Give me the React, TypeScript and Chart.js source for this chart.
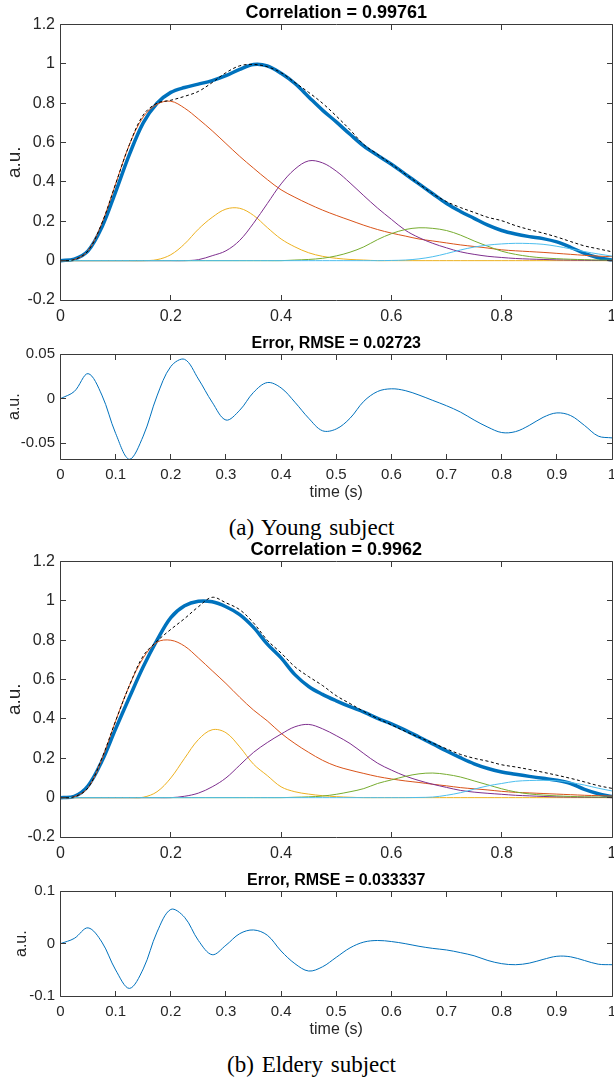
import React, { useEffect, useRef } from "react";
import { Chart, registerables } from "chart.js";

Chart.register(...registerables);

const FONT = '"Liberation Sans", Arial, Helvetica, sans-serif';
Chart.defaults.font.family = FONT;

// ---------- DATA ----------
const T = [0, 0.025, 0.05, 0.075, 0.1, 0.125, 0.15, 0.175, 0.2, 0.225, 0.25, 0.275, 0.3, 0.325, 0.35, 0.375, 0.4, 0.425, 0.45, 0.475, 0.5, 0.525, 0.55, 0.575, 0.6, 0.625, 0.65, 0.675, 0.7, 0.725, 0.75, 0.775, 0.8, 0.825, 0.85, 0.875, 0.9, 0.925, 0.95, 0.975, 1];

// (a) Young subject
const youngMeasured = [0, 0.005, 0.05, 0.19, 0.39, 0.59, 0.74, 0.8, 0.815, 0.835, 0.86, 0.905, 0.955, 0.99, 0.997, 0.985, 0.955, 0.905, 0.855, 0.8, 0.735, 0.665, 0.59, 0.54, 0.49, 0.44, 0.39, 0.34, 0.3, 0.27, 0.245, 0.22, 0.203, 0.178, 0.158, 0.14, 0.12, 0.097, 0.075, 0.06, 0.045];
const youngFit = [0, 0.008, 0.05, 0.17, 0.35, 0.54, 0.7, 0.8, 0.855, 0.88, 0.897, 0.915, 0.94, 0.972, 0.997, 0.99, 0.952, 0.9, 0.832, 0.765, 0.705, 0.642, 0.582, 0.535, 0.49, 0.44, 0.39, 0.34, 0.29, 0.25, 0.215, 0.18, 0.153, 0.135, 0.122, 0.112, 0.095, 0.068, 0.037, 0.015, 0.003];
const youngC1 = [0, 0.005, 0.05, 0.19, 0.39, 0.59, 0.73, 0.795, 0.81, 0.775, 0.72, 0.66, 0.595, 0.53, 0.47, 0.412, 0.36, 0.322, 0.288, 0.257, 0.23, 0.205, 0.18, 0.158, 0.14, 0.125, 0.11, 0.1, 0.09, 0.08, 0.072, 0.064, 0.055, 0.05, 0.046, 0.042, 0.037, 0.032, 0.027, 0.023, 0.02];
const youngC2 = [0, 0, 0, 0, 0, 0, 0, 0.005, 0.03, 0.085, 0.16, 0.22, 0.262, 0.266, 0.23, 0.168, 0.11, 0.07, 0.04, 0.022, 0.012, 0.006, 0.003, 0, 0, 0, 0, 0, 0, 0, 0, 0, 0, 0, 0, 0, 0, 0, 0, 0, 0];
const youngC3 = [0, 0, 0, 0, 0, 0, 0, 0, 0, 0, 0.005, 0.025, 0.05, 0.103, 0.19, 0.29, 0.39, 0.465, 0.507, 0.497, 0.455, 0.395, 0.33, 0.267, 0.21, 0.155, 0.117, 0.088, 0.065, 0.045, 0.032, 0.022, 0.016, 0.011, 0.008, 0.006, 0.004, 0.003, 0.002, 0.001, 0];
const youngC4 = [0, 0, 0, 0, 0, 0, 0, 0, 0, 0, 0, 0, 0, 0, 0, 0, 0, 0.003, 0.006, 0.012, 0.024, 0.043, 0.07, 0.107, 0.137, 0.158, 0.167, 0.164, 0.153, 0.13, 0.1, 0.073, 0.048, 0.032, 0.021, 0.014, 0.01, 0.007, 0.005, 0.003, 0.002];
const youngC5 = [0, 0, 0, 0, 0, 0, 0, 0, 0, 0, 0, 0, 0, 0, 0, 0, 0, 0, 0, 0, 0, 0, 0, 0, 0.001, 0.003, 0.009, 0.02, 0.036, 0.054, 0.069, 0.079, 0.085, 0.088, 0.087, 0.083, 0.073, 0.06, 0.046, 0.034, 0.023];
const youngError = [0, 0.008, 0.028, 0.004, -0.039, -0.068, -0.042, 0.003, 0.036, 0.044, 0.022, -0.004, -0.024, -0.013, 0.007, 0.018, 0.012, -0.004, -0.022, -0.036, -0.034, -0.022, -0.003, 0.008, 0.011, 0.009, 0.004, -0.002, -0.008, -0.015, -0.024, -0.032, -0.038, -0.037, -0.03, -0.021, -0.016, -0.019, -0.03, -0.042, -0.044];

// (b) Eldery subject
const elderMeasured = [0, 0.004, 0.05, 0.2, 0.39, 0.57, 0.72, 0.795, 0.855, 0.91, 0.97, 1.018, 0.99, 0.955, 0.888, 0.8, 0.735, 0.665, 0.615, 0.57, 0.518, 0.478, 0.438, 0.402, 0.37, 0.337, 0.307, 0.277, 0.248, 0.22, 0.2, 0.185, 0.167, 0.156, 0.143, 0.129, 0.114, 0.098, 0.08, 0.061, 0.047];
const elderFit = [0, 0.006, 0.06, 0.185, 0.35, 0.51, 0.665, 0.8, 0.915, 0.975, 0.998, 0.995, 0.97, 0.93, 0.865, 0.78, 0.71, 0.625, 0.565, 0.525, 0.492, 0.462, 0.435, 0.403, 0.375, 0.343, 0.308, 0.273, 0.237, 0.203, 0.172, 0.148, 0.13, 0.119, 0.108, 0.098, 0.088, 0.072, 0.042, 0.02, 0.005];
const elderC1 = [0, 0.004, 0.05, 0.195, 0.39, 0.57, 0.71, 0.79, 0.8, 0.77, 0.71, 0.645, 0.58, 0.51, 0.445, 0.39, 0.327, 0.275, 0.23, 0.19, 0.16, 0.14, 0.123, 0.107, 0.095, 0.085, 0.077, 0.068, 0.06, 0.051, 0.045, 0.039, 0.032, 0.027, 0.024, 0.021, 0.018, 0.015, 0.012, 0.01, 0.008];
const elderC2 = [0, 0, 0, 0, 0, 0, 0.002, 0.03, 0.1, 0.2, 0.295, 0.345, 0.33, 0.258, 0.17, 0.112, 0.055, 0.03, 0.018, 0.01, 0.005, 0.002, 0, 0, 0, 0, 0, 0, 0, 0, 0, 0, 0, 0, 0, 0, 0, 0, 0, 0, 0];
const elderC3 = [0, 0, 0, 0, 0, 0, 0, 0, 0, 0.007, 0.023, 0.055, 0.1, 0.165, 0.23, 0.28, 0.323, 0.36, 0.372, 0.35, 0.315, 0.275, 0.224, 0.175, 0.14, 0.11, 0.087, 0.068, 0.052, 0.037, 0.028, 0.022, 0.017, 0.012, 0.009, 0.006, 0.004, 0.003, 0.002, 0.001, 0];
const elderC4 = [0, 0, 0, 0, 0, 0, 0, 0, 0, 0, 0, 0, 0, 0, 0, 0, 0, 0.002, 0.004, 0.008, 0.017, 0.03, 0.046, 0.072, 0.09, 0.108, 0.121, 0.125, 0.118, 0.105, 0.085, 0.065, 0.045, 0.029, 0.019, 0.013, 0.009, 0.006, 0.004, 0.003, 0.002];
const elderC5 = [0, 0, 0, 0, 0, 0, 0, 0, 0, 0, 0, 0, 0, 0, 0, 0, 0, 0, 0, 0, 0, 0, 0, 0, 0, 0, 0.001, 0.003, 0.012, 0.025, 0.043, 0.06, 0.072, 0.083, 0.087, 0.088, 0.086, 0.077, 0.064, 0.048, 0.034];
const elderError = [0, 0.01, 0.03, 0.003, -0.05, -0.085, -0.048, 0.022, 0.065, 0.05, 0.006, -0.021, -0.003, 0.019, 0.026, 0.016, -0.014, -0.038, -0.052, -0.044, -0.026, -0.008, 0.003, 0.006, 0.004, 0, -0.005, -0.009, -0.012, -0.017, -0.023, -0.032, -0.038, -0.04, -0.037, -0.03, -0.024, -0.025, -0.032, -0.039, -0.04];

// ticks
const X_TICKS_MAIN = [0, 0.2, 0.4, 0.6, 0.8, 1];
const X_LABELS_MAIN = ["0", "0.2", "0.4", "0.6", "0.8", "1"];
const Y_TICKS_MAIN = [-0.2, 0, 0.2, 0.4, 0.6, 0.8, 1, 1.2];
const Y_LABELS_MAIN = ["-0.2", "0", "0.2", "0.4", "0.6", "0.8", "1", "1.2"];
const X_TICKS_ERR = [0, 0.1, 0.2, 0.3, 0.4, 0.5, 0.6, 0.7, 0.8, 0.9, 1];
const X_LABELS_ERR = ["0", "0.1", "0.2", "0.3", "0.4", "0.5", "0.6", "0.7", "0.8", "0.9", "1"];
const Y_TICKS_ERR_A = [-0.05, 0, 0.05];
const Y_LABELS_ERR_A = ["-0.05", "0", "0.05"];
const Y_RANGE_ERR_A = [-0.068, 0.05];
const Y_TICKS_ERR_B = [-0.1, 0, 0.1];
const Y_LABELS_ERR_B = ["-0.1", "0", "0.1"];
const Y_RANGE_ERR_B = [-0.1, 0.1];

// ---------- STYLE ----------
const C_BLUE = "#0072BD";
const C_ORANGE = "#D95319";
const C_YELLOW = "#EDB120";
const C_PURPLE = "#7E2F8E";
const C_GREEN = "#77AC30";
const C_CYAN = "#4DBEEE";
const AXIS_COLOR = "#262626";
const FRAME_COLOR = "#3a3a3a";

function line(values: number[], color: string, width: number, dash: number[] = []) {
  return {
    data: T.map((t, i) => ({ x: t, y: values[i] })),
    borderColor: color,
    backgroundColor: color,
    borderWidth: width,
    borderDash: dash,
    pointRadius: 0,
    fill: false,
    tension: 0.35,
    borderCapStyle: "butt",
    borderJoinStyle: "round",
  };
}

const matlabAxes = {
  id: "matlabAxes",
  afterDatasetsDraw(chart: any) {
    const { ctx, chartArea: a } = chart;
    const xs = chart.scales.x;
    const ys = chart.scales.y;
    const L = Math.floor(a.left) + 0.5;
    const R = Math.floor(a.right) + 0.5;
    const Tp = Math.floor(a.top) + 0.5;
    const B = Math.floor(a.bottom) + 0.5;
    const len = 5.5;
    ctx.save();
    ctx.strokeStyle = FRAME_COLOR;
    ctx.lineWidth = 1;
    ctx.setLineDash([]);
    ctx.beginPath();
    ctx.rect(L, Tp, R - L, B - Tp);
    xs.ticks.forEach((_: any, i: number) => {
      const px = Math.floor(xs.getPixelForTick(i)) + 0.5;
      ctx.moveTo(px, B);
      ctx.lineTo(px, B - len);
      ctx.moveTo(px, Tp);
      ctx.lineTo(px, Tp + len);
    });
    ys.ticks.forEach((_: any, i: number) => {
      const py = Math.floor(ys.getPixelForTick(i)) + 0.5;
      ctx.moveTo(L, py);
      ctx.lineTo(L + len, py);
      ctx.moveTo(R, py);
      ctx.lineTo(R - len, py);
    });
    ctx.stroke();
    ctx.restore();
  },
};

type Panel = {
  title: string;
  titleSize: number;
  titlePad: [number, number];
  yRange: number[];
  yTicks: number[];
  yLabels: string[];
  xTicks: number[];
  xLabels: string[];
  tickSize: number;
  xTickPad: number;
  xScaleHeight: number;
  yTitleSize: number;
  yTitlePad: number;
  xTitle?: string;
  xTitleSize?: number;
  xTitlePad?: number;
  datasets: any[];
};

function buildConfig(p: Panel): any {
  return {
    type: "line",
    data: { datasets: p.datasets },
    options: {
      responsive: false,
      animation: false,
      devicePixelRatio: 1,
      events: [],
      layout: { padding: { left: 0, right: 2, top: 0, bottom: 0 } },
      plugins: {
        legend: { display: false },
        tooltip: { enabled: false },
        title: {
          display: true,
          text: p.title,
          fullSize: false,
          color: "#000",
          font: { size: p.titleSize, weight: "bold", lineHeight: 1 },
          padding: { top: p.titlePad[0], bottom: p.titlePad[1] },
        },
      },
      scales: {
        x: {
          type: "linear",
          min: 0,
          max: 1,
          grid: { display: false, drawTicks: false, tickLength: 0 },
          border: { display: false },
          afterBuildTicks: (s: any) => {
            s.ticks = p.xTicks.map((v) => ({ value: v }));
          },
          afterFit: (s: any) => {
            s.height = p.xScaleHeight;
            s.paddingLeft = 0;
            s.paddingRight = 0;
          },
          ticks: {
            color: AXIS_COLOR,
            font: { size: p.tickSize },
            padding: p.xTickPad,
            maxRotation: 0,
            minRotation: 0,
            autoSkip: false,
            callback: (_v: any, i: number) => p.xLabels[i],
          },
          title: p.xTitle
            ? {
                display: true,
                text: p.xTitle,
                color: AXIS_COLOR,
                font: { size: p.xTitleSize },
                padding: { top: 0, bottom: p.xTitlePad },
              }
            : { display: false },
        },
        y: {
          type: "linear",
          min: p.yRange[0],
          max: p.yRange[1],
          grid: { display: false, drawTicks: false, tickLength: 0 },
          border: { display: false },
          afterBuildTicks: (s: any) => {
            s.ticks = p.yTicks.map((v) => ({ value: v }));
          },
          afterFit: (s: any) => {
            s.width = 60.5;
            s.paddingTop = 0;
            s.paddingBottom = 0;
          },
          ticks: {
            color: AXIS_COLOR,
            font: { size: p.tickSize },
            padding: 5.5,
            autoSkip: false,
            callback: (_v: any, i: number) => p.yLabels[i],
          },
          title: {
            display: true,
            text: "a.u.",
            color: AXIS_COLOR,
            font: { size: p.yTitleSize },
            padding: { top: p.yTitlePad, bottom: 0 },
          },
        },
      },
    },
    plugins: [matlabAxes],
  };
}

function ChartCanvas({ panel, top, height }: { panel: Panel; top: number; height: number }) {
  const ref = useRef<HTMLCanvasElement | null>(null);
  useEffect(() => {
    if (!ref.current) return;
    const chart = new Chart(ref.current, buildConfig(panel));
    return () => chart.destroy();
  }, []);
  return (
    <canvas
      ref={ref}
      width={614}
      height={height}
      style={{ position: "absolute", left: 0, top, width: 614, height, display: "block" }}
    />
  );
}

function mainDatasets(measured: number[], fit: number[], c: number[][]) {
  return [
    line(measured, "#000000", 1, [3, 2.5]),
    line(c[4], C_CYAN, 1),
    line(c[3], C_GREEN, 1),
    line(c[2], C_PURPLE, 1),
    line(c[1], C_YELLOW, 1),
    line(c[0], C_ORANGE, 1),
    line(fit, C_BLUE, 3.5),
  ];
}

const panelA: Panel = {
  title: "Correlation = 0.99761",
  titleSize: 18,
  titlePad: [4.3, 2.2],
  yRange: [-0.2, 1.2],
  yTicks: Y_TICKS_MAIN,
  yLabels: Y_LABELS_MAIN,
  xTicks: X_TICKS_MAIN,
  xLabels: X_LABELS_MAIN,
  tickSize: 16,
  xTickPad: 7.1,
  xScaleHeight: 30,
  yTitleSize: 19,
  yTitlePad: 3.6,
  datasets: mainDatasets(youngMeasured, youngFit, [youngC1, youngC2, youngC3, youngC4, youngC5]),
};

const errA: Panel = {
  title: "Error, RMSE = 0.02723",
  titleSize: 16,
  titlePad: [5.3, 2.7],
  yRange: Y_RANGE_ERR_A,
  yTicks: Y_TICKS_ERR_A,
  yLabels: Y_LABELS_ERR_A,
  xTicks: X_TICKS_ERR,
  xLabels: X_LABELS_ERR,
  tickSize: 15,
  xTickPad: 6.7,
  xScaleHeight: 50.7,
  yTitleSize: 16,
  yTitlePad: 5.4,
  xTitle: "time (s)",
  xTitleSize: 16,
  xTitlePad: 7.4,
  datasets: [line(youngError, C_BLUE, 1)],
};

const panelB: Panel = {
  ...panelA,
  title: "Correlation = 0.9962",
  datasets: mainDatasets(elderMeasured, elderFit, [elderC1, elderC2, elderC3, elderC4, elderC5]),
};

const errB: Panel = {
  ...errA,
  title: "Error, RMSE = 0.033337",
  yRange: Y_RANGE_ERR_B,
  yTicks: Y_TICKS_ERR_B,
  yLabels: Y_LABELS_ERR_B,
  yTitlePad: 12.1,
  datasets: [line(elderError, C_BLUE, 1)],
};

const captionStyle: React.CSSProperties = {
  position: "absolute",
  left: 0,
  width: 623,
  textAlign: "center",
  fontFamily: '"Liberation Serif", "Times New Roman", serif',
  fontSize: 23,
  lineHeight: "23px",
  wordSpacing: 2,
  color: "#000",
  whiteSpace: "pre",
};

export default function App() {
  return (
    <div
      style={{
        position: "absolute",
        left: 0,
        top: 0,
        width: 614,
        height: 1078,
        background: "#fff",
        overflow: "hidden",
      }}
    >
      <ChartCanvas panel={panelA} top={0} height={330} />
      <ChartCanvas panel={errA} top={330} height={180} />
      <div style={{ ...captionStyle, top: 516 }}>(a) Young subject</div>
      <ChartCanvas panel={panelB} top={537} height={330} />
      <ChartCanvas panel={errB} top={867} height={180} />
      <div style={{ ...captionStyle, top: 1053 }}>(b) Eldery subject</div>
    </div>
  );
}
